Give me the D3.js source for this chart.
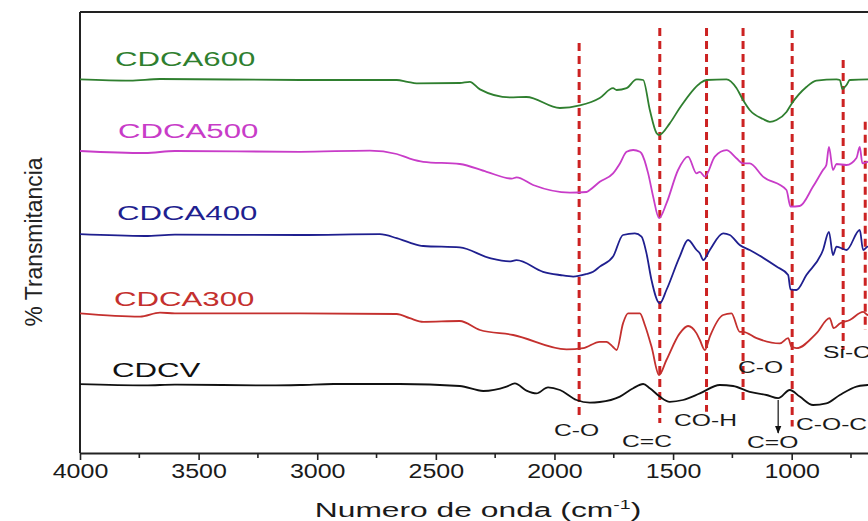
<html>
<head>
<meta charset="utf-8">
<script src="https://d3js.org/d3.v7.min.js"></script>
<style>
  body { margin: 0; background: #fff; }
  text { font-family: "Liberation Sans", Arial, sans-serif; }
</style>
</head>
<body>
<svg width="868" height="521"></svg>
<script>
// spectra: [wavenumber cm-1, % transmitance (offset)]
var cdca600 = [[4000,93.4],[3789,93.1],[3663,93.5],[3073,93.25],[2665,93.25],[2620,92.8],[2581,92.4],[2399,92.5],[2357,92.8],
  [2314,90.9],[2188,88.9],[2118,89.0],[1977,86.25],[1893,86.9],[1809,88.75],[1753,91.2],[1738,90.75],[1696,91.2],
  [1654,93.4],[1647,93.4],[1626,93.25],[1598,85.75],[1570,80],[1559,79.5],[1514,82.4],[1472,86.25],[1387,92.4],
  [1359,93.25],[1275,93.4],[1233,91.25],[1205,88.25],[1177,85.75],[1121,83.5],[1092,82.8],[1064,83.25],[1022,85.25],
  [1001,87.25],[938,91.5],[896,93.1],[811,93.4],[797,93.25],[786,91],[769,92],[755,93.25],[679,93.4],[620,93.4]];
var cdca500 = [[4000,75.5],[3726,75.0],[3600,75.5],[3073,75.3],[2778,75.6],[2665,74.75],[2610,73.6],[2553,72.8],[2399,72.25],
  [2286,70.3],[2180,68.6],[2160,68.9],[2090,67],[1935,65.1],[1865,65.25],[1851,65.75],[1809,67.8],
  [1753,69.9],[1724,72.4],[1696,75.3],[1668,75.75],[1640,75.3],[1633,74.9],[1605,69.9],[1584,64.1],[1559,58.7],
  [1528,62.4],[1479,70.75],[1437,74.1],[1401,69.9],[1387,70.3],[1366,69.1],[1324,74.1],[1275,75.7],[1233,73.7],
  [1205,72.4],[1177,72.4],[1121,69.1],[1022,65.75],[1005,61.6],[966,61.75],[910,66.6],[868,70.75],[854,72],
  [843,76.5],[826,70.75],[811,72.25],[769,72],[727,73.75],[713,76.5],[702,72.4],[679,72.8],[620,73.25]];
var cdca400 = [[4000,54.7],[3726,54.25],[3600,54.6],[3073,54.5],[2736,54.7],[2665,53.7],[2610,52.6],[2553,51.75],[2399,51.4],
  [2272,48.7],[2190,47.9],[2160,48.2],[2048,45.3],[1977,44.5],[1921,44.1],[1865,44.75],[1837,45.3],
  [1809,46.6],[1753,49.1],[1711,54.5],[1661,54.9],[1633,54.1],[1612,49.9],[1591,43.25],[1556,37.4],[1528,40.75],
  [1472,49.1],[1437,53.25],[1401,50.75],[1387,49.9],[1373,48.25],[1345,50.75],[1289,54.9],[1261,54.5],[1219,52],
  [1177,50.75],[1064,46.6],[1015,44.5],[1005,40.9],[980,40.75],[938,44.5],[868,50.75],[843,55.3],[826,49.5],
  [811,51.6],[769,50.75],[713,55.75],[699,50.75],[679,51.6],[620,51.75]];
var cdca300 = [[4000,34.9],[3747,34.1],[3663,35.1],[3600,34.9],[3073,34.9],[2665,34.75],[2610,33.7],[2553,32.8],[2399,33.0],
  [2314,30.75],[2174,29.5],[1949,25.9],[1879,26.2],[1809,27.8],[1781,27.8],[1753,26.5],[1738,25.75],[1711,32.4],
  [1690,34.9],[1640,34.9],[1619,32],[1591,26.6],[1559,19.5],[1528,23.25],[1472,29.9],[1437,31.75],[1401,29.9],
  [1387,28.25],[1366,25.75],[1345,29.1],[1289,34.5],[1254,34.9],[1219,30.3],[1205,30.3],[1148,28.7],[1050,27.4],
  [1015,28.7],[1001,26.6],[980,26.2],[896,29.9],[840,33.7],[823,31.2],[797,32.4],[755,33.25],[699,35.3],[679,34.5],[620,35]];
var cdcv = [[4000,17.2],[3726,16.9],[3600,17.1],[3200,16.9],[3073,17],[2931,17.25],[2652,17.25],[2399,16.75],
  [2300,15.5],[2202,16.6],[2167,17.4],[2118,15.6],[2076,14.9],[2027,16.4],[1977,15.75],[1907,13.25],[1851,12.6],
  [1809,12.75],[1724,14.1],[1668,16.2],[1626,17.25],[1598,16.2],[1556,14.1],[1514,12.8],[1458,13.25],[1387,14.9],
  [1303,17],[1247,16.75],[1177,15.3],[1106,14.5],[1057,13.7],[1008,15.75],[966,14.1],[910,12],[854,12.4],
  [797,14.5],[727,16.6],[679,17],[620,17.25]];

var seriesNames = ["CDCA600", "CDCA500", "CDCA400", "CDCA300", "CDCV"];
var seriesData = [cdca600, cdca500, cdca400, cdca300, cdcv];
var seriesColors = ["#2f7f2f", "#c83cc8", "#1f1f8f", "#c4302e", "#111111"];

// band markers (dashed red lines): position, top and bottom value
var bandWave = [1896, 1556, 1359, 1205, 998, 783, 690];
var bandTop = [102.5, 106.25, 106.25, 106.25, 105.75, 98.25, 82.8];
var bandBottom = [9.1, 7.5, 10.3, 13.25, 6.6, 25.75, 30.75];

var xTicks = [4000, 3500, 3000, 2500, 2000, 1500, 1000];
var xMinor = [3750, 3250, 2750, 2250, 1750, 1250, 750];

var svg = d3.select("svg");

var x = d3.scaleLinear().domain([4000, 620]).range([80, 80 + 3380 * 0.23723]);
var y = d3.scaleLinear().domain([0, 110.25]).range([453, 12]);

// frame: top and left lines
svg.append("line").attr("x1", 80).attr("x2", 868).attr("y1", 12).attr("y2", 12)
  .attr("stroke", "#222").attr("stroke-width", 2);
svg.append("line").attr("x1", 80).attr("x2", 80).attr("y1", 12).attr("y2", 453)
  .attr("stroke", "#222").attr("stroke-width", 2);

// bottom axis
var xAxis = svg.append("g").attr("transform", "translate(0,453)")
  .call(d3.axisBottom(x).tickValues(xTicks).tickSize(7).tickSizeOuter(0).tickFormat(d3.format("d")));
xAxis.select(".domain").attr("stroke", "#222").attr("stroke-width", 2);
xAxis.selectAll(".tick line").attr("stroke", "#222").attr("stroke-width", 1.6);
xAxis.selectAll(".tick text").attr("font-size", 20).attr("fill", "#1a1a1a")
  .attr("y", 11).attr("dy", "0.71em").attr("transform", "scale(1.25,1)");
svg.append("g").selectAll("line").data(xMinor).join("line")
  .attr("x1", d => x(d)).attr("x2", d => x(d)).attr("y1", 453).attr("y2", 458)
  .attr("stroke", "#222").attr("stroke-width", 1.6);

// dashed band lines
svg.append("g").selectAll("line").data(bandWave).join("line")
  .attr("x1", d => x(d)).attr("x2", d => x(d))
  .attr("y1", (d, i) => y(bandTop[i])).attr("y2", (d, i) => y(bandBottom[i]))
  .attr("stroke", "#cc2222").attr("stroke-width", 3).attr("stroke-dasharray", "8,5");

// spectra
var line = d3.line().x(d => x(d[0])).y(d => y(d[1])).curve(d3.curveMonotoneX);
svg.append("g").selectAll("path").data(seriesData).join("path")
  .attr("d", line).attr("fill", "none")
  .attr("stroke", (d, i) => seriesColors[i]).attr("stroke-width", 1.8);

// series labels
var labelX = [115, 118, 117, 114, 112];
var labelY = [66, 138, 220, 306, 377];
svg.append("g").selectAll("text").data(seriesNames).join("text")
  .attr("transform", (d, i) => "translate(" + labelX[i] + "," + labelY[i] + ") scale(1.6,1)")
  .attr("font-size", 19.5).attr("fill", (d, i) => seriesColors[i]).text(d => d);

// band annotations
var notes = [["C-O", 554, 436], ["C=C", 622, 447], ["CO-H", 674, 426], ["C-O", 738, 373],
  ["C=O", 747, 448], ["C-O-C", 796, 430], ["Si-C", 823, 358]];
svg.append("g").selectAll("text").data(notes).join("text")
  .attr("transform", d => "translate(" + d[1] + "," + d[2] + ") scale(1.45,1)")
  .attr("font-size", 17).attr("fill", "#1a1a1a").text(d => d[0]);

// arrow to C=O
svg.append("defs").append("marker").attr("id", "arr").attr("viewBox", "0 0 10 10")
  .attr("refX", 9).attr("refY", 5).attr("markerWidth", 8).attr("markerHeight", 8)
  .attr("orient", "auto").attr("markerUnits", "userSpaceOnUse")
  .append("path").attr("d", "M0,1 L10,5 L0,9 Z").attr("fill", "#111");
svg.append("line").attr("x1", x(1057)).attr("x2", x(1057)).attr("y1", 400).attr("y2", 433)
  .attr("stroke", "#111").attr("stroke-width", 1.2).attr("marker-end", "url(#arr)");

// axis titles
svg.append("text").attr("transform", "translate(42,242) rotate(-90)")
  .attr("text-anchor", "middle").attr("font-size", 23).attr("fill", "#222")
  .attr("textLength", 169).attr("lengthAdjust", "spacingAndGlyphs").text("% Transmitancia");

var title = svg.append("text").attr("transform", "translate(478,517) scale(1.63,1)")
  .attr("text-anchor", "middle").attr("font-size", 19.5).attr("fill", "#1a1a1a");
title.append("tspan").text("Numero de onda (cm");
title.append("tspan").attr("font-size", 12).attr("dy", -8).text("-1");
title.append("tspan").attr("dy", 8).text(")");
</script>
</body>
</html>
